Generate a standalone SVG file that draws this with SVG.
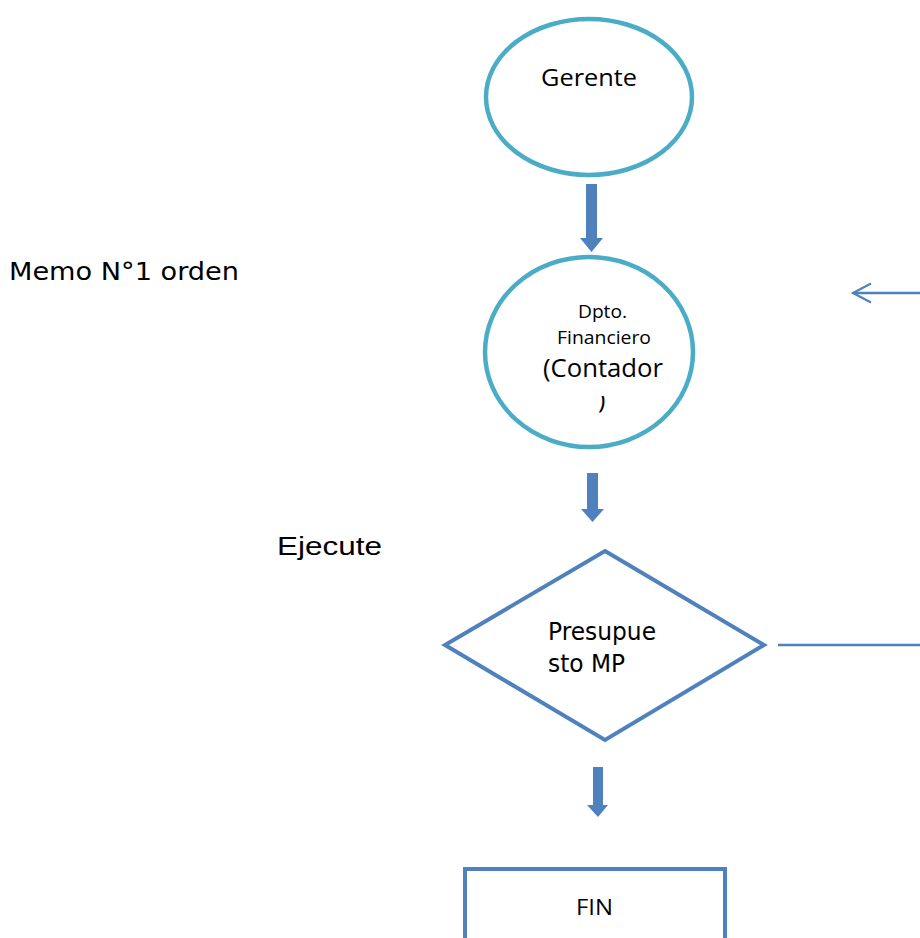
<svg xmlns="http://www.w3.org/2000/svg" width="920" height="938" viewBox="0 0 920 938">
  <style>
    .ell { fill: #ffffff; stroke: #4BACC6; stroke-width: 4.5; }
    .blue { fill: #ffffff; stroke: #4F81BD; stroke-width: 4; }
    .block { fill: #4F81BD; stroke: none; }
    .line { fill: none; stroke: #4F81BD; stroke-width: 2.5; }
    .cal { font-family: "Open Sans", "Noto Sans", sans-serif; fill: #000; }
    .tah { font-family: "DejaVu Sans", "Liberation Sans", sans-serif; fill: #000; }
    .ari { font-family: "Liberation Sans", Arial, sans-serif; fill: #000; }
  </style>
  <defs>
    <marker id="open" markerWidth="24" markerHeight="24" refX="20" refY="11" orient="auto" markerUnits="userSpaceOnUse">
      <path d="M2,1.5 L20,11 L2,20.5" fill="none" stroke="#4F81BD" stroke-width="2.2"/>
    </marker>
    <clipPath id="parenClip">
      <rect x="590" y="396" width="20" height="20"/>
    </clipPath>
  </defs>
  <rect width="920" height="938" fill="#ffffff"/>

  <!-- free labels -->
  <text class="tah" x="9" y="280" font-size="24" textLength="230" lengthAdjust="spacingAndGlyphs">Memo N°1  orden</text>
  <text class="ari" x="277" y="555" font-size="25" textLength="105" lengthAdjust="spacingAndGlyphs">Ejecute</text>

  <!-- connectors -->
  <g id="connectors">
    <path class="block" d="M586,184 H597 V238 H603 L591.5,252 L580,238 H586 Z"/>
    <path class="block" d="M587,473 H598 V509 H604 L592.5,522 L581,509 H587 Z"/>
    <path class="block" d="M593,767 H603 V805 H608 L598,817 L587,805 H593 Z"/>
    <line class="line" x1="920" y1="293" x2="853" y2="293" marker-end="url(#open)"/>
    <line class="line" x1="778" y1="645" x2="920" y2="645"/>
  </g>

  <g id="gerente">
    <ellipse class="ell" cx="589" cy="97" rx="103" ry="78"/>
    <text class="cal" x="541" y="86" font-size="24" textLength="96" lengthAdjust="spacingAndGlyphs">Gerente</text>
  </g>

  <g id="dpto-financiero">
    <ellipse class="ell" cx="589" cy="352" rx="104" ry="95"/>
    <text class="cal" x="578" y="318" font-size="18" textLength="49" lengthAdjust="spacingAndGlyphs">Dpto.</text>
    <text class="cal" x="557" y="344" font-size="18" textLength="94" lengthAdjust="spacingAndGlyphs">Financiero</text>
    <text class="cal" x="543" y="377" font-size="25" textLength="120" lengthAdjust="spacingAndGlyphs">(Contador</text>
    <text class="cal" x="598" y="408" font-size="25" clip-path="url(#parenClip)">)</text>
  </g>

  <g id="presupuesto">
    <polygon class="blue" points="605,551 764,645 605,740 445,645"/>
    <text class="tah" x="548" y="640" font-size="24" textLength="108" lengthAdjust="spacingAndGlyphs">Presupue</text>
    <text class="tah" x="548" y="672" font-size="24" textLength="77" lengthAdjust="spacingAndGlyphs">sto MP</text>
  </g>

  <g id="fin">
    <rect class="blue" x="465" y="869" width="260" height="90"/>
    <text class="cal" x="576" y="915" font-size="22" textLength="37" lengthAdjust="spacingAndGlyphs">FIN</text>
  </g>
</svg>
